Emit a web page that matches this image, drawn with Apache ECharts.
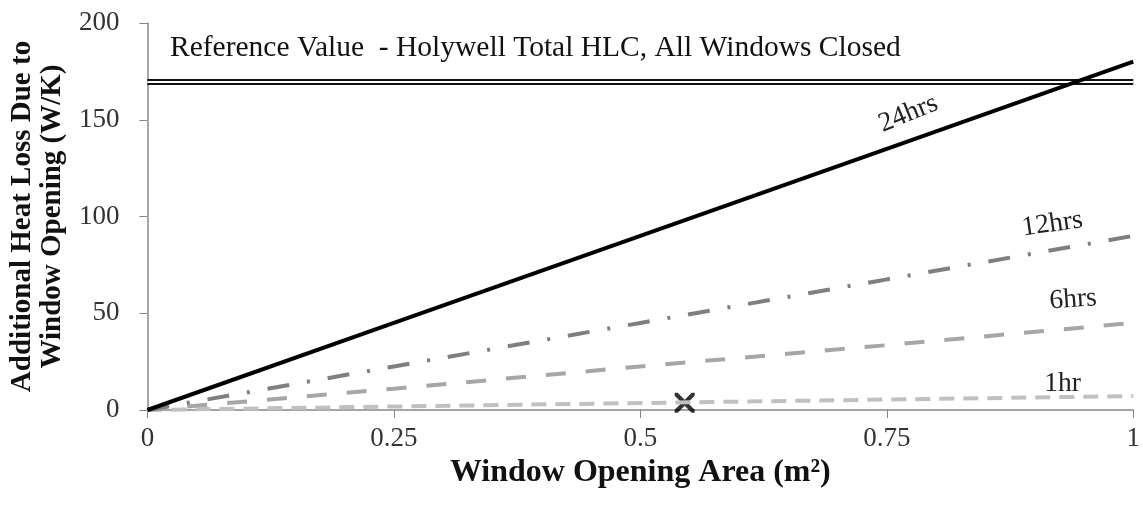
<!DOCTYPE html>
<html><head><meta charset="utf-8">
<script src="https://cdn.jsdelivr.net/npm/echarts@6/dist/echarts.min.js"></script>
<style>html,body{margin:0;padding:0;background:#fff}#c{width:1143px;height:508px}</style>
</head><body><div id="c"></div>
<script>
const xTicks = [0, 0.25, 0.5, 0.75, 1];
const areas = [0, 0.25, 0.5, 0.75, 1];
const hlc24 = [0, 45, 90, 135, 180];
const hlc12 = [0, 22.5, 45, 67.5, 90];
const hlc6 = [0, 11, 22.5, 33.5, 45];
const hlc1 = [0, 1.8, 3.6, 5.4, 7.2];
const refValue = 169.5;
const marker = [[0.545, 3.8]];
const seriesLabels = ['24hrs', '12hrs', '6hrs', '1hr'];

const font = '"Liberation Serif", "Times New Roman", serif';
const pairs = v => areas.map((a, i) => [a, v[i]]);
const chart = echarts.init(document.getElementById('c'));
function endLabel(name, rot, dx, dy) {
  return { show: true, formatter: name, fontFamily: font, fontSize: 27.5, color: '#222', rotate: rot, offset: [dx, dy] };
}
chart.setOption({
  animation: false,
  grid: { left: 146, right: 6, top: 23, bottom: 98 },
  xAxis: {
    type: 'value', min: 0, max: 1, interval: 0.25,
    name: 'Window Opening Area (m²)', nameLocation: 'middle', nameGap: 42,
    nameTextStyle: { fontFamily: font, fontSize: 32, fontWeight: 'bold', color: '#111' },
    axisLine: { lineStyle: { color: '#888', width: 1.5 } },
    axisTick: { show: true, length: 8, lineStyle: { color: '#888' } },
    axisLabel: { fontFamily: font, fontSize: 27, color: '#333', margin: 15 },
    splitLine: { show: false }
  },
  yAxis: {
    type: 'value', min: 0, max: 200, interval: 50,
    name: 'Additional Heat Loss Due to\nWindow Opening (W/K)', nameLocation: 'middle', nameGap: 67, nameRotate: 90,
    nameTextStyle: { fontFamily: font, fontSize: 29, fontWeight: 'bold', color: '#111', lineHeight: 30 },
    axisLine: { show: true, lineStyle: { color: '#888', width: 1.5 } },
    axisTick: { show: true, length: 8, lineStyle: { color: '#888' } },
    axisLabel: { fontFamily: font, fontSize: 27, color: '#333', margin: 28 },
    splitLine: { show: false }
  },
  series: [
    { type: 'line', data: [[0, refValue], [1, refValue]], symbol: 'none', silent: true,
      lineStyle: { color: '#111', width: 6 } },
    { type: 'line', data: [[0, refValue], [1, refValue]], symbol: 'none', silent: true,
      lineStyle: { color: '#fff', width: 1.8 } },
    { type: 'line', name: seriesLabels[3], data: pairs(hlc1), symbol: 'none',
      lineStyle: { color: '#c0c0c0', width: 4, type: [15, 9] },
      endLabel: endLabel(seriesLabels[3], 0, -97, -12) },
    { type: 'line', name: seriesLabels[2], data: pairs(hlc6), symbol: 'none',
      lineStyle: { color: '#a6a6a6', width: 4, type: [20, 20] },
      endLabel: endLabel(seriesLabels[2], 4, -90, -28) },
    { type: 'line', name: seriesLabels[1], data: pairs(hlc12), symbol: 'none',
      lineStyle: { color: '#7f7f7f', width: 4, type: [22, 18, 3, 18] },
      endLabel: endLabel(seriesLabels[1], 8, -117, -24) },
    { type: 'line', name: seriesLabels[0], data: pairs(hlc24), symbol: 'none',
      lineStyle: { color: '#000', width: 4 },
      endLabel: endLabel(seriesLabels[0], 22, -266, -39) },
    { type: 'scatter', data: marker, symbol: 'path://M0,0 L3,0 L10,7 L17,0 L20,0 L20,3 L13,10 L20,17 L20,20 L17,20 L10,13 L3,20 L0,20 L0,17 L7,10 L0,3 Z',
      symbolSize: 20, itemStyle: { color: '#000' } }
  ],
  graphic: [
    { type: 'text', left: 170, top: 33, style: { text: 'Reference Value  - Holywell Total HLC, All Windows Closed',
      font: '29.5px ' + font, fill: '#111' } }
  ]
});
</script></body></html>
